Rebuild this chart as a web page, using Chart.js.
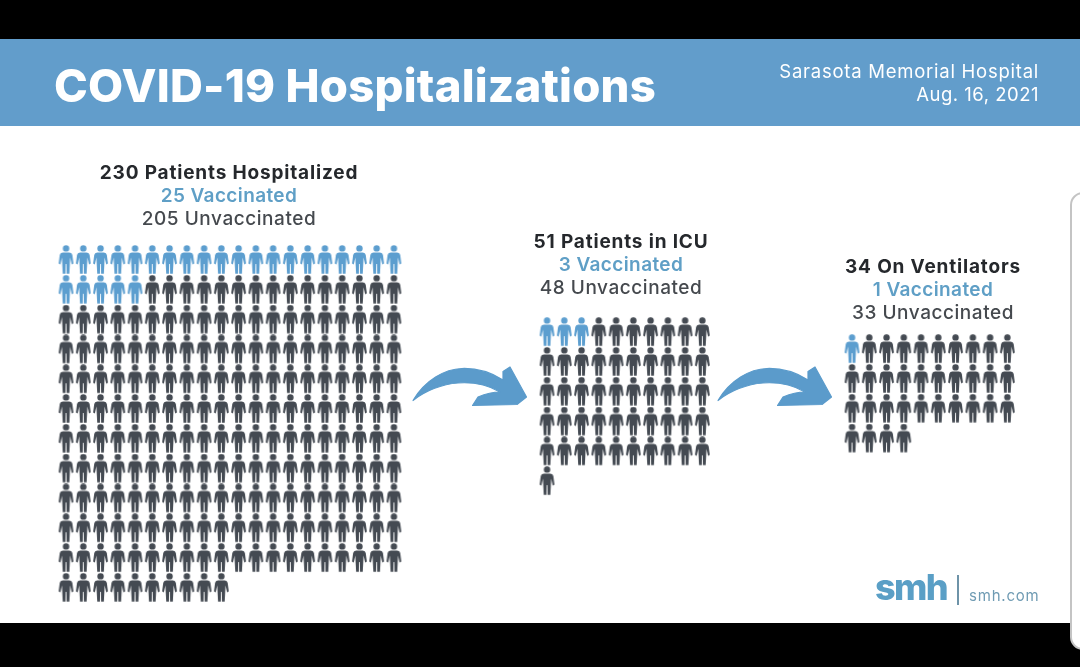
<!DOCTYPE html>
<html><head><meta charset="utf-8">
<script src="https://cdn.jsdelivr.net/npm/chart.js@4"></script>
<style>
html,body{margin:0;padding:0;width:1080px;height:667px;overflow:hidden;background:#000;font-family:Inter,sans-serif}
#page{position:absolute;left:0;top:0;width:1080px;height:667px}
#white{position:absolute;left:0;top:126px;width:1080px;height:497px;background:#fff}
#banner{position:absolute;left:0;top:39px;width:1080px;height:87px;background:#629dcb}
#panel{position:absolute;left:1070px;top:192px;width:30px;height:454px;background:#fff;border:2px solid #c4c4c4;border-radius:13px}
#c{position:absolute;left:0;top:0;width:1080px;height:667px}
.t{position:absolute;white-space:nowrap;line-height:1}
.h{transform:translate(-50%,-50%);font-size:19px}
.b{font-weight:700;color:#25282c;letter-spacing:.83px}
.v{font-weight:600;color:#5f9fc6;letter-spacing:.38px}
.u{font-weight:500;color:#45494e;letter-spacing:.55px}
</style></head><body>
<div id="page">
<div id="white"></div><div id="banner"></div><div id="panel"></div>
<canvas id="c" width="1080" height="667"></canvas>
<div class="t" style="left:54px;top:63px;font-size:45.5px;font-weight:800;color:#fff;letter-spacing:.22px" id="title">COVID-19 Hospitalizations</div>
<div class="t" style="right:41px;top:62px;font-size:18.5px;color:#fff;letter-spacing:.75px">Sarasota Memorial Hospital</div>
<div class="t" style="right:41px;top:85px;font-size:18.5px;color:#fff;letter-spacing:.5px">Aug. 16, 2021</div>
<div id="labels"></div>
<div class="t" style="left:875px;top:569px;font-size:36px;font-weight:800;color:#5a9fc6;letter-spacing:-1.6px">smh</div>
<div style="position:absolute;left:957px;top:575px;width:2px;height:30px;background:#6e93a8"></div>
<div class="t" style="left:969px;top:588px;font-size:15px;color:#6f9bb3;letter-spacing:.8px">smh.com</div>
</div>
<script>
const groupNames = ['230 Patients Hospitalized', '51 Patients in ICU', '34 On Ventilators'];
const vaccinated = [25, 3, 1];
const unvaccinated = [205, 48, 33];
const columnsPerRow = [20, 10, 10];
const columnOffset = [0, 27.87, 45.54];
const rowOffset = [0, 2.42, 2.99];
const headingCenterX = [229, 621, 933];
const headingTopY = [172, 241, 266];

const BLUE = '#5c9ecf', DARK = '#444a52';
function person(color){
  const cv = document.createElement('canvas'); cv.width = 17; cv.height = 31;
  const g = cv.getContext('2d'); g.fillStyle = color;
  g.beginPath(); g.arc(8.5, 3.4, 3.2, 0, Math.PI*2); g.fill();
  g.beginPath();
  g.moveTo(5.2,7.4); g.lineTo(11.8,7.4); g.quadraticCurveTo(14.4,7.7,14.8,10);
  g.lineTo(15.9,18.6); g.lineTo(14.2,19.4); g.lineTo(12.6,12.5); g.lineTo(12.3,19.5);
  g.lineTo(11.8,28.7); g.lineTo(9.1,28.7); g.lineTo(8.9,19); g.lineTo(8.1,19);
  g.lineTo(7.9,28.7); g.lineTo(5.2,28.7); g.lineTo(4.7,19.5); g.lineTo(4.4,12.5);
  g.lineTo(2.8,19.4); g.lineTo(1.1,18.6); g.lineTo(2.2,10); g.quadraticCurveTo(2.6,7.7,5.2,7.4);
  g.closePath(); g.fill();
  return cv;
}
const blueMan = person(BLUE), darkMan = person(DARK);

function cells(group, from, count){
  const out = [];
  for(let i = from; i < from + count; i++){
    out.push({x: i % columnsPerRow[group] + columnOffset[group],
              y: Math.floor(i / columnsPerRow[group]) + rowOffset[group]});
  }
  return out;
}
const datasets = [];
groupNames.forEach((name, g) => {
  datasets.push({label: name + ' vaccinated', data: cells(g, 0, vaccinated[g]), pointStyle: blueMan});
  datasets.push({label: name + ' unvaccinated', data: cells(g, vaccinated[g], unvaccinated[g]), pointStyle: darkMan});
});

const labels = document.getElementById('labels');
groupNames.forEach((name, g) => {
  [[name,'b'],[vaccinated[g]+' Vaccinated','v'],[unvaccinated[g]+' Unvaccinated','u']].forEach((r,i)=>{
    const d = document.createElement('div');
    d.className = 't h ' + r[1]; d.textContent = r[0];
    d.style.left = headingCenterX[g] + 'px';
    d.style.top = (headingTopY[g] + i*23) + 'px';
    labels.appendChild(d);
  });
});

const arrowPlugin = {
  id: 'arrows',
  afterDatasetsDraw(chart){
    const c = chart.ctx;
    [0, 305].forEach(dx => {
      c.save(); c.translate(dx, 0); c.fillStyle = '#5b9bcb'; c.strokeStyle = '#5b9bcb';
      c.lineWidth = 1.2; c.lineJoin = 'round';
      c.beginPath();
      c.moveTo(413, 400.5);
      c.bezierCurveTo(425, 380, 445, 369, 462, 368.5);
      c.bezierCurveTo(478, 368, 492, 373, 503, 380);
      c.lineTo(503, 371.5); c.lineTo(510, 367); c.lineTo(526.5, 397); c.lineTo(517, 404.5);
      c.lineTo(472.5, 405.5); c.lineTo(478, 397);
      c.quadraticCurveTo(490, 392, 500, 392);
      c.bezierCurveTo(488, 385, 472, 382, 458, 383);
      c.bezierCurveTo(442, 384, 425, 391, 413, 400.5);
      c.closePath(); c.fill(); c.stroke(); c.restore();
    });
  }
};

new Chart(document.getElementById('c'), {
  type: 'scatter',
  data: {datasets},
  plugins: [arrowPlugin],
  options: {
    responsive: false, animation: false,
    layout: {padding: 0, autoPadding: false},
    elements: {point: {radius: 8, hoverRadius: 8}},
    plugins: {legend: {display: false}, tooltip: {enabled: false}},
    scales: {
      x: {type: 'linear', display: false, min: -3.824, max: 58.75},
      y: {type: 'linear', display: false, reverse: true, min: -8.74, max: 13.64}
    }
  }
});
</script>
</body></html>
